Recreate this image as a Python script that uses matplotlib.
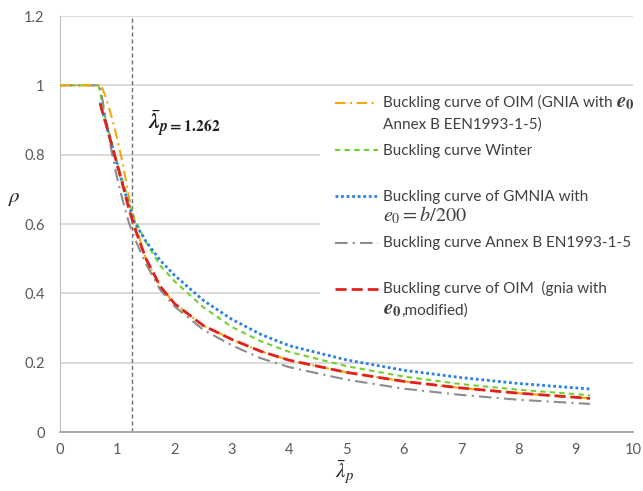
import matplotlib.pyplot as plt
from matplotlib.lines import Line2D
from matplotlib.patches import Rectangle

plt.rcParams['font.family'] = ['Lato', 'DejaVu Sans']
plt.rcParams['mathtext.fontset'] = 'stix'

# slenderness values and reduction factors for each buckling curve
lam_oim_gnia = [0, 0.72, 0.8, 0.9, 1.0, 1.1, 1.2, 1.3, 1.5, 1.75, 2.0, 2.5, 3.0,
                3.5, 4.0, 5.0, 6.0, 7.0, 8.0, 9.25]
rho_oim_gnia = [1.0, 1.0, 0.965, 0.91, 0.845, 0.77, 0.68, 0.605, 0.50, 0.42, 0.37,
                0.307, 0.267, 0.233, 0.207, 0.172, 0.146, 0.127, 0.112, 0.097]

lam_winter = [0, 0.673, 0.8, 0.9, 1.0, 1.1, 1.2, 1.3, 1.5, 1.75, 2.0, 2.5, 3.0,
              3.5, 4.0, 5.0, 6.0, 7.0, 8.0, 9.25]
rho_winter = [1.0, 1.0, 0.90, 0.835, 0.775, 0.72, 0.665, 0.615, 0.548, 0.48, 0.435,
              0.36, 0.303, 0.262, 0.231, 0.19, 0.16, 0.138, 0.122, 0.106]

lam_gmnia = [0.7, 0.8, 0.9, 1.0, 1.1, 1.2, 1.3, 1.5, 1.75, 2.0, 2.5, 3.0, 3.5,
             4.0, 5.0, 6.0, 7.0, 8.0, 9.25]
rho_gmnia = [0.95, 0.89, 0.83, 0.77, 0.71, 0.655, 0.605, 0.55, 0.495, 0.452, 0.38,
             0.325, 0.282, 0.249, 0.208, 0.178, 0.157, 0.14, 0.124]

lam_annex_b = [0, 0.7, 0.8, 0.9, 1.0, 1.1, 1.2, 1.3, 1.5, 1.75, 2.0, 2.5, 3.0,
               3.5, 4.0, 5.0, 6.0, 7.0, 8.0, 9.25]
rho_annex_b = [1.0, 1.0, 0.90, 0.81, 0.73, 0.665, 0.605, 0.56, 0.485, 0.41, 0.362,
               0.295, 0.25, 0.213, 0.187, 0.151, 0.125, 0.107, 0.093, 0.081]

lam_oim_mod = [0.7, 0.8, 0.9, 1.0, 1.1, 1.2, 1.3, 1.5, 1.75, 2.0, 2.5, 3.0, 3.5,
               4.0, 5.0, 6.0, 7.0, 8.0, 9.25]
rho_oim_mod = [0.947, 0.89, 0.83, 0.77, 0.71, 0.645, 0.59, 0.50, 0.42, 0.37, 0.307,
               0.267, 0.233, 0.207, 0.172, 0.146, 0.127, 0.112, 0.097]

lam_ref = 1.262

x_ticks = [0, 1, 2, 3, 4, 5, 6, 7, 8, 9, 10]
y_ticks = [0, 0.2, 0.4, 0.6, 0.8, 1.0, 1.2]
y_tick_labels = ['0', '0.2', '0.4', '0.6', '0.8', '1', '1.2']

styles = {
    'oim_gnia': dict(color='#F5A80A', lw=1.5, ls=(0, (5, 2.2, 1, 2.2))),
    'winter': dict(color='#72D12E', lw=1.5, ls=(0, (2.6, 2))),
    'gmnia': dict(color='#2A7FE6', lw=2.0, ls=(0, (1, 1)), dash_capstyle='butt'),
    'annex_b': dict(color='#8C8C8C', lw=1.5, ls=(0, (6, 2.5, 1, 2.5))),
    'oim_mod': dict(color='#E3201A', lw=2.0, ls=(0, (4, 1.8)), dash_capstyle='butt'),
}

W, H = 643, 491
fig, ax = plt.subplots(figsize=(W / 100, H / 100), dpi=100)
fig.subplots_adjust(left=60 / W, right=633 / W, bottom=1 - 432 / H, top=1 - 16 / H)

ax.plot(lam_winter, rho_winter, zorder=3, **styles['winter'])
ax.plot(lam_gmnia, rho_gmnia, zorder=4, **styles['gmnia'])
ax.plot(lam_annex_b, rho_annex_b, zorder=3, **styles['annex_b'])
ax.plot(lam_oim_gnia, rho_oim_gnia, zorder=3, **styles['oim_gnia'])
ax.plot(lam_oim_mod, rho_oim_mod, zorder=4, **styles['oim_mod'])

ax.axvline(lam_ref, color='#6E6E6E', lw=1.0, ls=(0, (3, 2)), zorder=2)
ax.text(1.53, 0.867, r'$\bar{\mathbfit{\lambda}}_{\mathbfit{p}\mathbf{=1.262}}$',
        fontsize=16, color='#202020', va='baseline', ha='left')

ax.set_xlim(0, 10)
ax.set_ylim(0, 1.2)
ax.set_xticks(x_ticks)
ax.set_yticks(y_ticks)
ax.set_yticklabels(y_tick_labels)
ax.tick_params(length=0, labelsize=10.5, labelcolor='#595959')
ax.tick_params(axis='y', pad=11)
ax.tick_params(axis='x', pad=8)

ax.set_axisbelow(True)
ax.grid(axis='y', color='#D4D4D4', lw=1.2)
for side in ['top', 'right']:
    ax.spines[side].set_visible(False)
ax.spines['left'].set_color('#BFBFBF')
ax.spines['bottom'].set_color('#A6A6A6')
ax.spines['bottom'].set_linewidth(1.3)

ax.set_ylabel(r'$\rho$', fontsize=15, rotation=0, color='#202020')
ax.yaxis.set_label_coords((14 - 60) / 573, (432 - 208) / 416)
ax.set_xlabel(r'$\bar{\lambda}_p$', fontsize=15, color='#202020')
ax.xaxis.set_label_coords((345 - 60) / 573, (432 - 458) / 416)

# legend drawn by hand so the sample lines sit on the first text line
ax.add_patch(Rectangle(((320 - 60) / 573, (432 - 338) / 416), (633 - 320) / 573,
                       (338 - 93) / 416, transform=ax.transAxes,
                       facecolor='white', edgecolor='none', zorder=1))

e0_bold = r'$\mathbfit{e}_{\mathbf{0}}$'
legend_rows = [
    ('oim_gnia', 103, [[('Buckling curve of OIM (GNIA with', 11), (e0_bold, 15)],
                       [('Annex B EEN1993-1-5)', 11)]]),
    ('winter', 150, [[('Buckling curve Winter', 11)]]),
    ('gmnia', 196, [[('Buckling curve of GMNIA with', 11)],
                    [(r'$e_0 = b/200$', 14.5)]]),
    ('annex_b', 243, [[('Buckling curve Annex B EN1993-1-5', 11)]]),
    ('oim_mod', 289, [[('Buckling curve of OIM  (gnia with', 11)],
                      [(e0_bold, 15), (',modified)', 11)]]),
]

renderer = fig.canvas.get_renderer()
for key, y0, lines in legend_rows:
    fig.add_artist(Line2D([335 / W, 378 / W], [1 - y0 / H, 1 - y0 / H],
                          transform=fig.transFigure, **styles[key]))
    for i, parts in enumerate(lines):
        x = 383
        for j, (txt, fs) in enumerate(parts):
            t = fig.text(x / W, 1 - (y0 + 21 * i + 4.5) / H, txt, fontsize=fs,
                         color='#404040', va='baseline', ha='left')
            bb = t.get_window_extent(renderer)
            x = bb.x1 + (3 if j == 0 and txt[-1] != '$' else 0)

fig.savefig('out.png', dpi=100)
